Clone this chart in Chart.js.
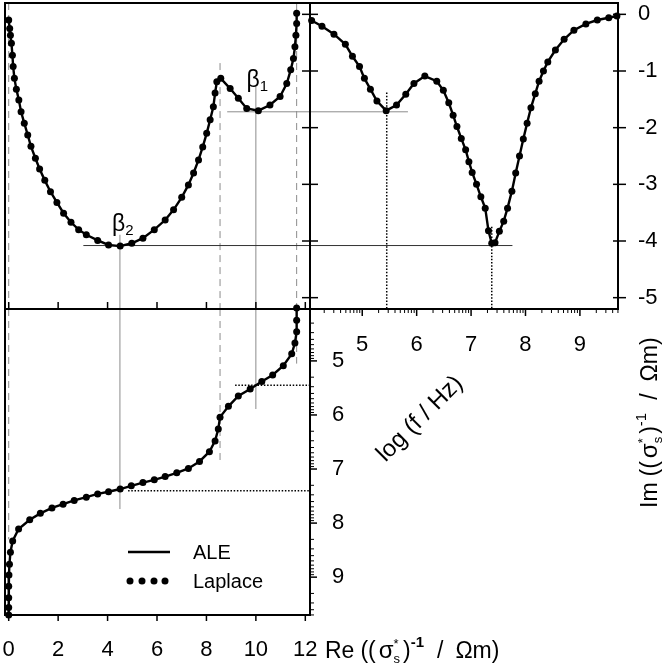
<!DOCTYPE html>
<html>
<head>
<meta charset="utf-8">
<script src="https://cdn.jsdelivr.net/npm/chart.js@4.4.1/dist/chart.umd.min.js"></script>
<style>
  html, body { margin: 0; padding: 0; background: #fff; }
  #wrap { position: relative; width: 664px; height: 667px; }
  #wrap canvas { position: absolute; left: 0; top: 0; }
</style>
</head>
<body>
<div id="wrap">
  <canvas id="cole" width="664" height="667"></canvas>
  <canvas id="spec" width="664" height="667"></canvas>
  <canvas id="real" width="664" height="667"></canvas>
</div>
<script>
// top left: complex plane, Re vs Im
const coleRe = [0.00, 0.04, 0.07, 0.11, 0.15, 0.18, 0.23, 0.31, 0.41, 0.50, 0.63, 0.77, 0.90, 1.08, 1.25, 1.46,
  1.69, 1.95, 2.22, 2.52, 2.83, 3.14, 3.60, 4.04, 4.51, 4.98, 5.43, 5.89, 6.33, 6.67, 7.00, 7.27, 7.48, 7.68,
  7.85, 8.01, 8.15, 8.28, 8.35, 8.42, 8.58, 8.96, 9.29, 9.63, 10.10, 10.57, 10.98, 11.25, 11.41, 11.52, 11.58,
  11.62, 11.65, 11.65];
const coleIm = [-0.10, -0.25, -0.37, -0.51, -0.72, -0.92, -1.13, -1.32, -1.51, -1.72, -1.92, -2.13, -2.33, -2.54,
  -2.73, -2.93, -3.13, -3.32, -3.51, -3.67, -3.80, -3.89, -3.99, -4.07, -4.09, -4.04, -3.95, -3.80, -3.63, -3.45,
  -3.23, -3.01, -2.80, -2.57, -2.34, -2.10, -1.86, -1.63, -1.39, -1.19, -1.13, -1.31, -1.48, -1.66, -1.70, -1.60,
  -1.45, -1.22, -0.98, -0.78, -0.57, -0.37, -0.16, 0.02];

// top right: log f vs Im
const specLogF = [4.07, 4.26, 4.48, 4.69, 4.82, 4.95, 5.04, 5.15, 5.27, 5.44, 5.63, 5.80, 5.95, 6.15, 6.37, 6.49,
  6.59, 6.67, 6.74, 6.82, 6.90, 6.96, 7.02, 7.10, 7.18, 7.26, 7.32, 7.38, 7.44, 7.52, 7.60, 7.67, 7.75, 7.82,
  7.89, 7.96, 8.03, 8.10, 8.18, 8.25, 8.33, 8.41, 8.55, 8.71, 8.89, 9.11, 9.32, 9.53, 9.68];
const specIm = [-0.11, -0.21, -0.35, -0.53, -0.74, -0.92, -1.13, -1.32, -1.53, -1.70, -1.60, -1.41, -1.22, -1.09,
  -1.18, -1.34, -1.56, -1.78, -1.98, -2.19, -2.39, -2.60, -2.79, -3.00, -3.22, -3.42, -3.82, -4.04, -4.03, -3.83,
  -3.65, -3.42, -3.12, -2.80, -2.50, -2.20, -1.92, -1.65, -1.40, -1.18, -1.00, -0.84, -0.63, -0.44, -0.28, -0.17,
  -0.10, -0.06, -0.03];

// bottom left: Re vs log f
const realRe = [11.65, 11.65, 11.65, 11.58, 11.45, 11.11, 10.68, 10.24, 9.77, 9.29, 8.89, 8.55, 8.48, 8.35, 8.12,
  7.72, 7.27, 6.80, 6.33, 5.89, 5.43, 4.96, 4.51, 4.04, 3.60, 3.14, 2.65, 2.20, 1.75, 1.28, 0.85, 0.40, 0.16,
  0.07, 0.03, 0.01, 0.00, 0.00, 0.00, 0.00];
const realLogF = [4.02, 4.25, 4.46, 4.67, 4.87, 5.09, 5.26, 5.38, 5.52, 5.65, 5.84, 6.04, 6.26, 6.48, 6.68, 6.86,
  6.99, 7.07, 7.14, 7.20, 7.25, 7.31, 7.37, 7.42, 7.46, 7.52, 7.58, 7.65, 7.72, 7.82, 7.94, 8.11, 8.33, 8.54,
  8.76, 8.96, 9.17, 9.38, 9.56, 9.70];

const reTicks = [0, 2, 4, 6, 8, 10, 12];
const imTicks = [0, -1, -2, -3, -4, -5];
const imTickLabels = ['0', '-1', '-2', '-3', '-4', '-5'];
const logTicks = [5, 6, 7, 8, 9];

// marked relaxations
const beta1 = { re: 10.0, im: -1.72, logf: 5.45 };
const beta2 = { re: 4.5, im: -4.08, logf: 7.38 };
const plateauRe = [0, 8.55, 11.65];

const RE_MIN = -0.15, RE_MAX = 12.19;
const IM_MIN = -5.2, IM_MAX = 0.2;
const LF_MIN = 4.04, LF_MAX = 9.70;

const FONT = '"Liberation Sans", Arial, sans-serif';
Chart.defaults.color = '#000';
Chart.defaults.font.family = FONT;

const GRAY = '#8c8c8c';

function aleLine(xs, ys) {
  return {
    label: 'ALE',
    data: xs.map((x, i) => ({ x: x, y: ys[i] })),
    showLine: true, borderColor: '#000', borderWidth: 2.4,
    pointRadius: 0, clip: false
  };
}
function laplaceDots(xs, ys) {
  return {
    label: 'Laplace',
    data: xs.map((x, i) => ({ x: x, y: ys[i] })),
    showLine: false, pointRadius: 3.5, pointBackgroundColor: '#000',
    pointBorderWidth: 0, clip: false
  };
}

function seg(ctx, x1, y1, x2, y2) {
  ctx.beginPath();
  ctx.moveTo(x1, y1);
  ctx.lineTo(x2, y2);
  ctx.stroke();
}
function style(ctx, color, width, dash) {
  ctx.strokeStyle = color;
  ctx.lineWidth = width;
  ctx.setLineDash(dash || []);
}
function frame(ctx, a) {
  style(ctx, '#000', 2);
  ctx.strokeRect(a.left, a.top, a.right - a.left, a.bottom - a.top);
}
function logMinor(lo, hi) {
  const out = [];
  for (let d = Math.floor(lo); d <= Math.ceil(hi); d++) {
    for (let k = 2; k <= 9; k++) {
      const v = d + Math.log10(k);
      if (v > lo && v < hi) out.push(v);
    }
  }
  return out;
}
function drawRich(ctx, parts, x, y) {
  let cx = x;
  for (const p of parts) {
    if (p.gap) { cx += p.gap; continue; }
    ctx.font = (p.bold ? 'bold ' : '') + p.size + 'px ' + FONT;
    ctx.fillText(p.t, cx, y + (p.dy || 0));
    if (!p.stack) cx += ctx.measureText(p.t).width;
  }
}
const sigmaLabel = (head, boldExp) => [
  { t: head, size: 23 }, { gap: 6 },
  { t: '((', size: 23 }, { gap: 3 },
  { t: 'σ', size: 24 },
  { t: '*', size: 13, dy: -10, stack: true },
  { t: 's', size: 13, dy: 5 }, { gap: 3 },
  { t: ')', size: 23 },
  { t: '-1', size: 15, dy: -11, bold: boldExp },
  { gap: 13 }, { t: '/', size: 23 }, { gap: 12 },
  { t: 'Ωm)', size: 23 }
];

// fix an axis box size and drop its auto padding, so the plot areas line up exactly
function fixSize(prop, size) {
  return s => {
    s[prop] = size;
    s.paddingLeft = s.paddingRight = s.paddingTop = s.paddingBottom = 0;
  };
}
const baseOpts = {
  responsive: false,
  animation: false,
  events: [],
  plugins: { legend: { display: false }, tooltip: { enabled: false } }
};
const noGrid = { display: false, drawTicks: false };

// ---------- top left ----------
const colePlugin = {
  id: 'coleDecor',
  beforeDatasetsDraw(chart) {
    const { ctx, chartArea: a, scales: { x, y } } = chart;
    ctx.save();
    style(ctx, GRAY, 1, [7, 5]);
    seg(ctx, x.getPixelForValue(plateauRe[0]), a.top, x.getPixelForValue(plateauRe[0]), a.bottom);
    seg(ctx, x.getPixelForValue(plateauRe[1]), y.getPixelForValue(-0.86), x.getPixelForValue(plateauRe[1]), a.bottom);
    seg(ctx, x.getPixelForValue(plateauRe[2]), a.top, x.getPixelForValue(plateauRe[2]), a.bottom);
    style(ctx, GRAY, 1);
    seg(ctx, x.getPixelForValue(beta1.re), y.getPixelForValue(-1.28), x.getPixelForValue(beta1.re), a.bottom);
    seg(ctx, x.getPixelForValue(beta2.re), y.getPixelForValue(-3.89), x.getPixelForValue(beta2.re), a.bottom);
    seg(ctx, x.getPixelForValue(8.84), y.getPixelForValue(beta1.im), a.right, y.getPixelForValue(beta1.im));
    style(ctx, '#333', 1);
    seg(ctx, x.getPixelForValue(3.02), y.getPixelForValue(beta2.im), a.right, y.getPixelForValue(beta2.im));
    ctx.restore();
  },
  afterDraw(chart) {
    const { ctx, chartArea: a, scales: { x, y } } = chart;
    ctx.save();
    frame(ctx, a);
    style(ctx, '#000', 1.5);
    reTicks.forEach(v => { const px = x.getPixelForValue(v); seg(ctx, px, a.bottom, px, a.bottom - 7); });
    imTicks.forEach(v => { const py = y.getPixelForValue(v); seg(ctx, a.right - 8, py, a.right + 8, py); });
    ctx.fillStyle = '#000';
    ctx.textBaseline = 'alphabetic';
    drawRich(ctx, [{ t: 'β', size: 23 }, { t: '1', size: 15, dy: 4 }], x.getPixelForValue(9.62), y.getPixelForValue(-1.28));
    drawRich(ctx, [{ t: 'β', size: 23 }, { t: '2', size: 15, dy: 4 }], x.getPixelForValue(4.18), y.getPixelForValue(-3.82));
    ctx.restore();
  }
};

new Chart(document.getElementById('cole'), {
  type: 'scatter',
  data: { datasets: [aleLine(coleRe, coleIm), laplaceDots(coleRe, coleIm)] },
  options: Object.assign({}, baseOpts, {
    layout: { padding: { left: 5, top: 3, right: 664 - 310, bottom: 667 - 309 }, autoPadding: false },
    scales: {
      x: { type: 'linear', min: RE_MIN, max: RE_MAX, display: false },
      y: { type: 'linear', min: IM_MIN, max: IM_MAX, display: false }
    }
  }),
  plugins: [colePlugin]
});

// ---------- top right ----------
const specPlugin = {
  id: 'specDecor',
  beforeDatasetsDraw(chart) {
    const { ctx, chartArea: a, scales: { x, y } } = chart;
    ctx.save();
    style(ctx, GRAY, 1);
    seg(ctx, a.left, y.getPixelForValue(beta1.im), x.getPixelForValue(5.84), y.getPixelForValue(beta1.im));
    style(ctx, '#333', 1);
    seg(ctx, a.left, y.getPixelForValue(beta2.im), x.getPixelForValue(7.76), y.getPixelForValue(beta2.im));
    style(ctx, '#000', 1.5, [1.5, 1.7]);
    seg(ctx, x.getPixelForValue(beta1.logf), y.getPixelForValue(-1.38), x.getPixelForValue(beta1.logf), a.bottom);
    seg(ctx, x.getPixelForValue(beta2.logf), y.getPixelForValue(-3.75), x.getPixelForValue(beta2.logf), a.bottom);
    ctx.restore();
  },
  afterDraw(chart) {
    const { ctx, chartArea: a, scales: { x, y } } = chart;
    ctx.save();
    frame(ctx, a);
    style(ctx, '#000', 1.5);
    imTicks.forEach(v => { const py = y.getPixelForValue(v); seg(ctx, a.right - 5, py, a.right + 8, py); });
    logTicks.forEach(v => { const px = x.getPixelForValue(v); seg(ctx, px, a.bottom, px, a.bottom + 7); });
    style(ctx, '#000', 1);
    logMinor(LF_MIN, LF_MAX).forEach(v => { const px = x.getPixelForValue(v); seg(ctx, px, a.bottom, px, a.bottom + 4); });
    ctx.fillStyle = '#000';
    // Im axis title
    ctx.save();
    ctx.translate(657, 508);
    ctx.rotate(-Math.PI / 2);
    drawRich(ctx, sigmaLabel('Im', false), 0, 0);
    ctx.restore();
    // log f title
    ctx.save();
    ctx.translate(420, 419);
    ctx.rotate(-Math.PI / 4);
    ctx.font = '24px ' + FONT;
    ctx.textAlign = 'center';
    ctx.textBaseline = 'middle';
    ctx.fillText('log (f / Hz)', 0, 0);
    ctx.restore();
    ctx.restore();
  }
};

new Chart(document.getElementById('spec'), {
  type: 'scatter',
  data: { datasets: [aleLine(specLogF, specIm), laplaceDots(specLogF, specIm)] },
  options: Object.assign({}, baseOpts, {
    layout: { padding: { left: 310, top: 3, right: 0, bottom: 0 }, autoPadding: false },
    scales: {
      x: {
        type: 'linear', position: 'bottom', min: LF_MIN, max: LF_MAX,
        grid: noGrid, border: { display: false },
        ticks: { padding: 23, font: { size: 22 }, autoSkip: false, maxRotation: 0, callback: v => String(v) },
        afterBuildTicks: s => { s.ticks = logTicks.map(v => ({ value: v })); },
        afterFit: fixSize('height', 667 - 309)
      },
      y: {
        type: 'linear', position: 'right', min: IM_MIN, max: IM_MAX,
        grid: noGrid, border: { display: false },
        ticks: { padding: 20, crossAlign: 'near', font: { size: 22 }, autoSkip: false,
          callback: (v, i) => imTickLabels[i] },
        afterBuildTicks: s => { s.ticks = imTicks.map(v => ({ value: v })); },
        afterFit: fixSize('width', 664 - 618)
      }
    }
  }),
  plugins: [specPlugin]
});

// ---------- bottom left ----------
const realPlugin = {
  id: 'realDecor',
  beforeDatasetsDraw(chart) {
    const { ctx, chartArea: a, scales: { x, y } } = chart;
    ctx.save();
    style(ctx, GRAY, 1, [7, 5]);
    seg(ctx, x.getPixelForValue(plateauRe[0]), a.top, x.getPixelForValue(plateauRe[0]), y.getPixelForValue(8.3));
    seg(ctx, x.getPixelForValue(plateauRe[1]), a.top, x.getPixelForValue(plateauRe[1]), y.getPixelForValue(6.88));
    seg(ctx, x.getPixelForValue(plateauRe[2]), a.top, x.getPixelForValue(plateauRe[2]), y.getPixelForValue(5.05));
    style(ctx, GRAY, 1);
    seg(ctx, x.getPixelForValue(beta1.re), a.top, x.getPixelForValue(beta1.re), y.getPixelForValue(5.89));
    seg(ctx, x.getPixelForValue(beta2.re), a.top, x.getPixelForValue(beta2.re), y.getPixelForValue(7.74));
    style(ctx, '#000', 1.5, [1.5, 1.7]);
    seg(ctx, x.getPixelForValue(9.16), y.getPixelForValue(beta1.logf), a.right, y.getPixelForValue(beta1.logf));
    seg(ctx, x.getPixelForValue(4.83), y.getPixelForValue(7.40), a.right, y.getPixelForValue(7.40));
    ctx.restore();
  },
  afterDraw(chart) {
    const { ctx, chartArea: a, scales: { x, y } } = chart;
    ctx.save();
    frame(ctx, a);
    style(ctx, '#000', 1.5);
    reTicks.forEach(v => { const px = x.getPixelForValue(v); seg(ctx, px, a.bottom, px, a.bottom + 6); });
    logTicks.forEach(v => { const py = y.getPixelForValue(v); seg(ctx, a.right, py, a.right + 7, py); });
    style(ctx, '#000', 1);
    logMinor(LF_MIN, LF_MAX).forEach(v => { const py = y.getPixelForValue(v); seg(ctx, a.right, py, a.right + 4, py); });
    // legend
    style(ctx, '#000', 2.4);
    seg(ctx, 128, 552, 170, 552);
    ctx.fillStyle = '#000';
    [130, 142, 154, 165].forEach(px => { ctx.beginPath(); ctx.arc(px, 581, 3.5, 0, Math.PI * 2); ctx.fill(); });
    ctx.font = '20px ' + FONT;
    ctx.textBaseline = 'alphabetic';
    ctx.fillText('ALE', 193, 559);
    ctx.fillText('Laplace', 193, 588);
    // Re axis title
    drawRich(ctx, sigmaLabel('Re', true), 325, 658);
    ctx.restore();
  }
};

new Chart(document.getElementById('real'), {
  type: 'scatter',
  data: { datasets: [aleLine(realRe, realLogF), laplaceDots(realRe, realLogF)] },
  options: Object.assign({}, baseOpts, {
    layout: { padding: { left: 5, top: 309, right: 0, bottom: 0 }, autoPadding: false },
    scales: {
      x: {
        type: 'linear', position: 'bottom', min: RE_MIN, max: RE_MAX,
        grid: noGrid, border: { display: false },
        ticks: { padding: 22, font: { size: 22 }, autoSkip: false, maxRotation: 0, callback: v => String(v) },
        afterBuildTicks: s => { s.ticks = reTicks.map(v => ({ value: v })); },
        afterFit: fixSize('height', 667 - 615)
      },
      y: {
        type: 'linear', position: 'right', reverse: true, min: LF_MIN, max: LF_MAX,
        grid: noGrid, border: { display: false },
        ticks: { padding: 22, font: { size: 22 }, autoSkip: false, callback: v => String(v) },
        afterBuildTicks: s => { s.ticks = logTicks.map(v => ({ value: v })); },
        afterFit: fixSize('width', 664 - 310)
      }
    }
  }),
  plugins: [realPlugin]
});
</script>
</body>
</html>
